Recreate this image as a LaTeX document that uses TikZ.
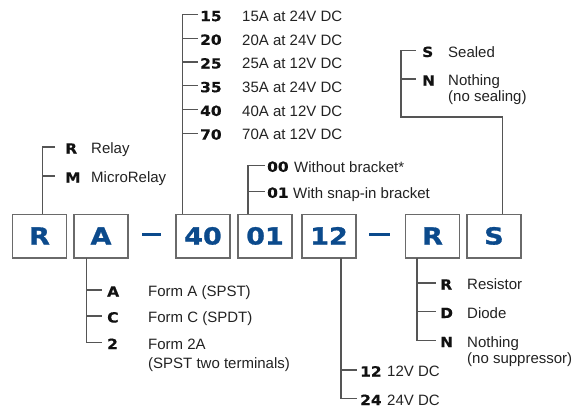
\documentclass[tikz,border=0pt]{standalone}
\usepackage{fontspec}
\setmainfont{Liberation Sans}
\newfontfamily\boxfam[FakeStretch=1.15,FakeBold=1.2]{DejaVu Sans}
\newfontfamily\labfam[FakeStretch=1.1,FakeBold=0.6]{DejaVu Sans}
\definecolor{blu}{HTML}{0B4A8C}
\definecolor{boxgray}{HTML}{6A6A6A}
\definecolor{linegray}{HTML}{555555}
\definecolor{txt}{HTML}{222222}
\definecolor{labtxt}{HTML}{111111}
\begin{document}
\begin{tikzpicture}[x=1pt,y=-1pt,
  codebox/.style={draw=boxgray,line width=1.5pt,minimum width=54pt,minimum height=43.5pt,
    inner sep=0pt,text height=17pt,text depth=0pt,text=blu,
    font={\boxfam\bfseries\fontsize{23.5}{26}\selectfont}},
  lab/.style={anchor=west,inner sep=0pt,text height=13pt,text depth=0pt,text=labtxt,
    font={\labfam\bfseries\fontsize{14}{16}\selectfont}},
  desc/.style={anchor=west,inner sep=0pt,text height=13.5pt,text depth=0pt,text=txt,
    font={\fontsize{15}{17}\selectfont}},
  conn/.style={draw=linegray,line width=1.2pt},
  dashline/.style={draw=blu,line width=2.4pt}]
\useasboundingbox (0,0) rectangle (576,408);
% boxes
\node[codebox] (bR)  at (39.5,236) {R};
\node[codebox] (bA)  at (101,236)  {A};
\node[codebox] (b40) at (203,236)  {40};
\node[codebox] (b01) at (265,236)  {01};
\node[codebox] (b12) at (329,236)  {12};
\node[codebox] (bR2) at (432.5,236) {R};
\node[codebox] (bS)  at (494,236)  {S};
% dashes
\coordinate (d1a) at (142,234.5); \coordinate (d1b) at (161,234.5);
\coordinate (d2a) at (369,234.5); \coordinate (d2b) at (390,234.5);
\draw[dashline] (d1a) -- (d1b);
\draw[dashline] (d2a) -- (d2b);
% ---- R group
\node[lab]  (lRr) at (65,147) {R};
\node[desc] (dRr) at (91,147) {Relay};
\node[lab]  (lRm) at (65,176) {M};
\node[desc] (dRm) at (91,176) {MicroRelay};
\coordinate (kR) at (42.5,214);
\coordinate (tR) at (55,0);
\draw[conn] (tR |- lRr.west) -| (kR);
\draw[conn] (kR |- lRm.west) -- (tR |- lRm.west);
% ---- 40 group
\node[lab]  (l15) at (200,14.6)  {15};
\node[desc] (d15) at (242,14.6)  {15A at 24V DC};
\node[lab]  (l20) at (200,38.3)  {20};
\node[desc] (d20) at (242,38.3)  {20A at 24V DC};
\node[lab]  (l25) at (200,62)    {25};
\node[desc] (d25) at (242,62)    {25A at 12V DC};
\node[lab]  (l35) at (200,85.7)  {35};
\node[desc] (d35) at (242,85.7)  {35A at 24V DC};
\node[lab]  (l40) at (200,109.4) {40};
\node[desc] (d40) at (242,109.4) {40A at 12V DC};
\node[lab]  (l70) at (200,133.1) {70};
\node[desc] (d70) at (242,133.1) {70A at 12V DC};
\coordinate (k40) at (182.5,214);
\coordinate (t40) at (198,0);
\draw[conn] (t40 |- l15.west) -| (k40);
\foreach \n in {l20,l25,l35,l40,l70}
  \draw[conn] (k40 |- \n.west) -- (t40 |- \n.west);
% ---- 01 group
\node[lab]  (l00) at (267,165.3) {00};
\node[desc] (d00) at (294,165.3) {Without bracket*};
\node[lab]  (l01) at (267,191.3) {01};
\node[desc] (d01) at (293,191.3) {With snap-in bracket};
\coordinate (k01) at (248,214);
\coordinate (t01) at (265,0);
\draw[conn] (t01 |- l00.west) -| (k01);
\draw[conn] (k01 |- l01.west) -- (t01 |- l01.west);
% ---- S group
\node[lab]  (lSs) at (422,50.5) {S};
\node[desc] (dSs) at (448,50.5) {Sealed};
\node[lab]  (lSn) at (422,79)   {N};
\node[desc] (dSn) at (448,79)   {Nothing};
\node[desc] (dSn2) at (448,95)  {(no sealing)};
\coordinate (kS) at (502.5,214);
\coordinate (jS) at (401,117);
\coordinate (tS) at (416,0);
\draw[conn] (kS) |- (jS) |- (tS |- lSs.west);
\draw[conn] (jS |- lSn.west) -- (tS |- lSn.west);
% ---- A group
\node[lab]  (lAa) at (107,290) {A};
\node[desc] (dAa) at (148,290) {Form A (SPST)};
\node[lab]  (lAc) at (107,316) {C};
\node[desc] (dAc) at (148,316) {Form C (SPDT)};
\node[lab]  (lA2) at (107,342.5) {2};
\node[desc] (dA2) at (148,342.5) {Form 2A};
\node[desc] (dA2b) at (148,361.5) {(SPST two terminals)};
\coordinate (kA) at (86.7,258);
\coordinate (tA) at (102,0);
\draw[conn] (kA) |- (tA |- lA2.west);
\draw[conn] (kA |- lAa.west) -- (tA |- lAa.west);
\draw[conn] (kA |- lAc.west) -- (tA |- lAc.west);
% ---- 12 group
\node[lab]  (l12) at (360,370) {12};
\node[desc] (d12) at (387,370) {12V DC};
\node[lab]  (l24) at (360,398.5) {24};
\node[desc] (d24) at (387,398.5) {24V DC};
\coordinate (k12) at (341,258);
\coordinate (t12) at (357,0);
\draw[conn] (k12) |- (t12 |- l24.west);
\draw[conn] (k12 |- l12.west) -- (t12 |- l12.west);
% ---- R2 group
\node[lab]  (lRR) at (440,283) {R};
\node[desc] (dRR) at (467,283) {Resistor};
\node[lab]  (lRD) at (440,311.5) {D};
\node[desc] (dRD) at (467,311.5) {Diode};
\node[lab]  (lRN) at (440,340.5) {N};
\node[desc] (dRN) at (467,340.5) {Nothing};
\node[desc] (dRN2) at (467,356.5) {(no suppressor)};
\coordinate (kR2) at (417,258);
\coordinate (tR2) at (436,0);
\draw[conn] (kR2) |- (tR2 |- lRN.west);
\draw[conn] (kR2 |- lRR.west) -- (tR2 |- lRR.west);
\draw[conn] (kR2 |- lRD.west) -- (tR2 |- lRD.west);
\end{tikzpicture}
\end{document}
